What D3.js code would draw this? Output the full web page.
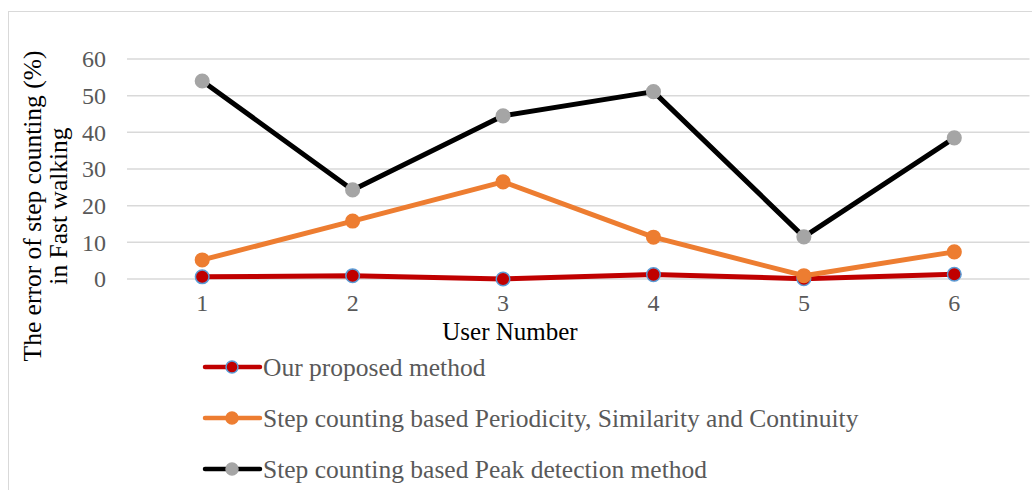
<!DOCTYPE html>
<html>
<head>
<meta charset="utf-8">
<script src="https://cdn.jsdelivr.net/npm/d3@7"></script>
<style>
  html, body { margin: 0; padding: 0; background: #fff; }
  svg text { font-family: "Liberation Serif", "Times New Roman", serif; }
</style>
</head>
<body>
<svg id="chart" width="1032" height="490"></svg>
<script>
// Step-counting error (%) in fast walking, per user
const users = ["1", "2", "3", "4", "5", "6"];
const proposed = [0.6, 0.9, 0.0, 1.2, 0.1, 1.3];
const periodicity = [5.2, 15.8, 26.5, 11.4, 0.9, 7.4];
const peak = [54.0, 24.3, 44.5, 51.1, 11.5, 38.5];
const yTicks = [0, 10, 20, 30, 40, 50, 60];
const seriesNames = [
  "Our proposed method",
  "Step counting based Periodicity, Similarity and Continuity",
  "Step counting based Peak detection method"
];

const series = [
  { name: seriesNames[0], values: proposed, line: "#C00000", fill: "#C00000", stroke: "#5B9BD5" },
  { name: seriesNames[1], values: periodicity, line: "#ED7D31", fill: "#ED7D31", stroke: "#ED7D31" },
  { name: seriesNames[2], values: peak, line: "#000000", fill: "#A5A5A5", stroke: "#A5A5A5" }
];

const svg = d3.select("#chart");

// outer frame
svg.append("rect")
  .attr("x", 8.5).attr("y", 11.5)
  .attr("width", 1040).attr("height", 500)
  .attr("fill", "none").attr("stroke", "#D9D9D9").attr("stroke-width", 1);

const plot = { left: 127, right: 1029.5, top: 59, bottom: 279 };

const x = d3.scaleBand().domain(users).range([plot.left, plot.right]);
const y = d3.scaleLinear().domain([0, 60]).range([plot.bottom, plot.top]);
const cx = d => x(d) + x.bandwidth() / 2;

// gridlines
svg.append("g").selectAll("line").data(yTicks).join("line")
  .attr("x1", plot.left).attr("x2", plot.right)
  .attr("y1", d => y(d)).attr("y2", d => y(d))
  .attr("stroke", "#D9D9D9").attr("stroke-width", 1.5);

// y axis labels
const yAxis = d3.axisLeft(y).tickValues(yTicks).tickSize(0).tickPadding(0);
const gy = svg.append("g").attr("transform", `translate(${plot.left - 21},0)`).call(yAxis);
gy.select(".domain").remove();
gy.selectAll("text")
  .attr("fill", "#595959").style("font-size", "24px")
  .style("font-family", "'Liberation Serif', serif");

// x axis labels
const xAxis = d3.axisBottom(x).tickSize(0).tickPadding(0);
const gx = svg.append("g").attr("transform", `translate(0,${plot.bottom + 15})`).call(xAxis);
gx.select(".domain").remove();
gx.selectAll("text")
  .attr("fill", "#595959").style("font-size", "24px")
  .style("font-family", "'Liberation Serif', serif");

// axis titles
svg.append("text")
  .attr("x", 510).attr("y", 340)
  .attr("text-anchor", "middle")
  .attr("fill", "#000").style("font-size", "25px")
  .text("User Number");

const yt = svg.append("text")
  .attr("transform", "translate(41,206) rotate(-90)")
  .attr("text-anchor", "middle")
  .attr("fill", "#000").style("font-size", "25.5px");
yt.append("tspan").attr("x", 0).attr("dy", 0).text("The error of step counting (%)");
yt.append("tspan").attr("x", 0).attr("dy", 26).text("in Fast walking");

// lines and markers
const line = d3.line().x((d, i) => cx(users[i])).y(d => y(d));

series.forEach(s => {
  svg.append("path")
    .datum(s.values)
    .attr("d", line)
    .attr("fill", "none")
    .attr("stroke", s.line)
    .attr("stroke-width", 5)
    .attr("stroke-linejoin", "round");
});
series.forEach(s => {
  svg.append("g").selectAll("circle").data(s.values).join("circle")
    .attr("cx", (d, i) => cx(users[i]))
    .attr("cy", d => y(d))
    .attr("r", 6.8)
    .attr("fill", s.fill)
    .attr("stroke", s.stroke)
    .attr("stroke-width", 1.5);
});

// legend
const legend = svg.append("g");
series.forEach((s, i) => {
  const ly = 367 + i * 51;
  const g = legend.append("g").attr("transform", `translate(0,${ly})`);
  g.append("line").attr("x1", 205).attr("x2", 260).attr("y1", 0).attr("y2", 0)
    .attr("stroke", s.line).attr("stroke-width", 4.5).attr("stroke-linecap", "round");
  g.append("circle").attr("cx", 232).attr("cy", 0).attr("r", 6)
    .attr("fill", s.fill).attr("stroke", s.stroke).attr("stroke-width", 1.5);
  g.append("text").attr("x", 263).attr("y", 8.5)
    .attr("fill", "#595959").style("font-size", "25.5px")
    .text(s.name);
});
</script>
</body>
</html>
